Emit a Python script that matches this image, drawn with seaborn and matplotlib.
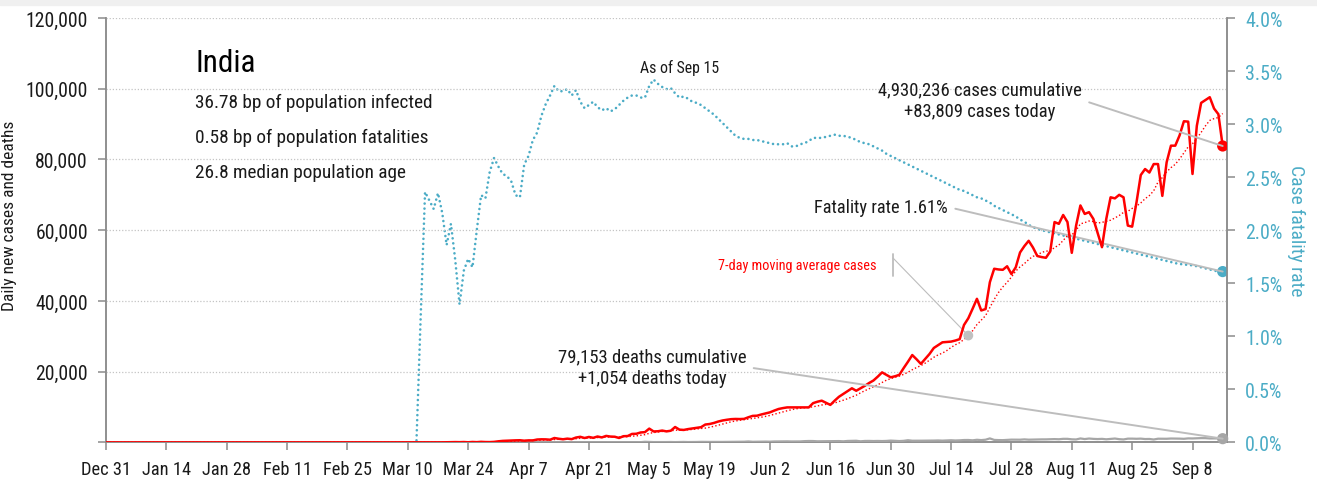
import numpy as np
import pandas as pd
import matplotlib
matplotlib.use("Agg")
import matplotlib.pyplot as plt
import matplotlib.ticker as mticker
import matplotlib.font_manager as fm
from matplotlib.lines import Line2D
from matplotlib.patches import Rectangle
import seaborn as sns

# ---------------- data ----------------
START_DATE = "2019-12-31"
END_DATE = "2020-09-15"

# daily new cases, one value per day from Dec 31 to Sep 15
cases = [
    0, 0, 0, 0, 0, 0, 0, 0, 0, 0,
    0, 0, 0, 0, 0, 0, 0, 0, 0, 0,
    0, 0, 0, 0, 0, 0, 0, 0, 0, 0,
    1, 0, 0, 1, 1, 0, 0, 0, 0, 0,
    0, 0, 0, 0, 0, 0, 0, 0, 0, 0,
    0, 0, 0, 0, 0, 0, 0, 0, 0, 0,
    0,
    0, 2, 1, 22, 2, 1, 3, 5, 4, 13,
    6, 11, 10, 20, 11, 6, 23, 14, 38, 50,
    86, 66, 103, 37, 121, 70, 160, 100, 87, 146, 306,
    424, 486, 560, 579, 609, 484, 573, 565, 813, 871,
    854, 758, 1243, 1031, 886, 1061, 922, 1371, 1580, 1239,
    1537, 1292, 1667, 1408, 1835, 1650, 1600, 1250, 1750, 1800,
    2394, 2442, 2806, 2900, 3900, 3100, 3150, 3344, 3113, 3300,
    4353, 3607, 3524, 3763, 3942, 4100, 4300, 5050, 5200, 5500,
    5900, 6198, 6400, 6568, 6629, 6600, 6650, 7111, 7500,
    7550, 7900, 8200, 8500, 9000, 9450, 9700, 9900, 9900, 9900,
    9900, 9900, 9900, 11100, 11500, 11800, 11200, 10600, 11800, 12900,
    13700, 14500, 15300, 14600, 15300, 16000, 16800, 17500, 18600, 19800,
    19100, 18400, 18700, 19100, 21000, 22800, 24700, 23500, 22200, 23600,
    25000, 26700, 27500, 28300, 28400, 28500, 28800, 29200, 33200, 35100,
    37800, 40600, 37300, 37700, 45300, 49100, 48900, 48800, 49800, 47600,
    49500, 53700, 55500, 57000, 55100, 52700, 52400, 52200, 54000, 62300,
    61800, 64300, 62300, 53600, 61300, 67000, 64600, 65100, 63200, 59200,
    55200, 63200, 69300, 69000, 70000, 69300, 61300, 61000, 67800, 75600,
    77300, 76300, 78700, 78700, 69700, 79200, 83900, 83900, 86800, 90800,
    90700, 75900, 89500, 96000, 96800, 97600, 94400, 92800, 83809,
]

# daily new deaths
deaths = [
    0, 0, 0, 0, 0, 0, 0, 0, 0, 0,
    0, 0, 0, 0, 0, 0, 0, 0, 0, 0,
    0, 0, 0, 0, 0, 0, 0, 0, 0, 0,
    0, 0, 0, 0, 0, 0, 0, 0, 0, 0,
    0, 0, 0, 0, 0, 0, 0, 0, 0, 0,
    0, 0, 0, 0, 0, 0, 0, 0, 0, 0,
    0, 0, 0, 0, 0, 0, 0, 0, 0, 0,
    0, 0,
    1, 0, 0, 0, 1, 0, 1, 0, 1, 1, 3, 2, 1, 3, 1, 3, 4, 4, 6, 6,
    5, 3, 20, 13, 25, 32, 35, 24, 33, 35, 40, 35, 36, 29, 38, 27, 36, 38, 38, 36,
    38, 50, 36, 53, 49, 48, 60, 60, 73, 67,
    77, 85, 68, 175, 126, 94, 89, 103, 97, 111, 87, 121, 134, 100, 104, 120,
    157, 134, 140, 132, 148, 137, 147, 154, 146, 170, 194, 265, 175, 193, 230,
    230, 204, 260, 273, 287, 294, 261, 266, 274, 357, 396, 386, 311, 325, 343,
    341, 336, 375, 306, 410, 445, 465, 312, 407, 418, 384, 410, 380, 417, 507,
    434, 379, 442, 613, 475, 467, 482, 487, 475, 519, 551, 500, 553, 606, 543,
    587, 671, 681, 587, 740, 648, 757, 1130, 705, 654, 636, 708, 779, 775, 764, 853,
    771, 803, 806, 852, 857, 904, 933, 886, 1007, 1007, 871, 834, 1115, 942, 1092,
    996, 944, 1002, 876, 977, 1092, 912, 836, 1059, 1063, 1021, 1065, 948, 971, 819, 1043,
    1045, 1026, 1096, 1089, 1065, 1016, 1133, 1115, 1172, 1209, 1201, 1114, 1136, 1132, 1054,
]

# case fatality rate in percent
cfr_pct = [
    0, 0, 0, 0, 0, 0, 0, 0, 0, 0,
    0, 0, 0, 0, 0, 0, 0, 0, 0, 0,
    0, 0, 0, 0, 0, 0, 0, 0, 0, 0,
    0, 0, 0, 0, 0, 0, 0, 0, 0, 0,
    0, 0, 0, 0, 0, 0, 0, 0, 0, 0,
    0, 0, 0, 0, 0, 0, 0, 0, 0, 0,
    0, 0, 0, 0, 0, 0, 0, 0, 0, 0,
    0, 0, 0,
    1.20, 2.36, 2.28, 2.20, 2.35, 2.16, 1.86, 2.06, 1.72, 1.30,
    1.62, 1.73, 1.65, 2.00, 2.33, 2.30, 2.55, 2.68, 2.60, 2.53,
    2.51, 2.46, 2.33, 2.31, 2.62, 2.70, 2.85, 2.92, 3.08, 3.19,
    3.27, 3.36, 3.31, 3.31, 3.33, 3.27, 3.32, 3.21, 3.15, 3.18,
    3.21, 3.16, 3.13, 3.15, 3.12, 3.14, 3.18, 3.22, 3.25, 3.27,
    3.27, 3.25, 3.25, 3.36, 3.42, 3.38, 3.35, 3.33, 3.34, 3.29,
    3.25, 3.26, 3.24, 3.21, 3.20, 3.18, 3.15, 3.12, 3.09, 3.05,
    3.01, 2.97, 2.93, 2.89, 2.87, 2.86, 2.86, 2.85, 2.85, 2.84,
    2.83, 2.82, 2.81, 2.81, 2.81, 2.82, 2.79, 2.79, 2.81, 2.82,
    2.84, 2.87, 2.87, 2.87, 2.88, 2.89, 2.90, 2.89, 2.89, 2.88,
    2.87, 2.85, 2.83, 2.82, 2.81, 2.79, 2.77, 2.75, 2.72, 2.70,
    2.68, 2.66, 2.64, 2.62, 2.60, 2.58, 2.56, 2.54, 2.52, 2.50,
    2.48, 2.46, 2.44, 2.42, 2.40, 2.38, 2.37, 2.35, 2.33, 2.31,
    2.30, 2.28, 2.26, 2.23, 2.21, 2.19, 2.17, 2.15, 2.13, 2.10,
    2.08, 2.05, 2.03, 2.01, 2.00, 1.99, 1.98, 1.97, 1.96, 1.95,
    1.94, 1.93, 1.92, 1.91, 1.90, 1.89, 1.88, 1.87, 1.86, 1.85,
    1.84, 1.83, 1.82, 1.81, 1.80, 1.79, 1.78, 1.77, 1.76, 1.75,
    1.74, 1.73, 1.72, 1.71, 1.70, 1.69, 1.68, 1.68, 1.67, 1.67,
    1.66, 1.65, 1.64, 1.63, 1.62, 1.61, 1.61,
]

left_ticks = [0, 20000, 40000, 60000, 80000, 100000, 120000]
right_ticks = [0.0, 0.5, 1.0, 1.5, 2.0, 2.5, 3.0, 3.5, 4.0]
x_tick_step_days = 14
ma_label_date = "2020-07-18"

title = "India"
info_lines = ["36.78 bp of population infected",
              "0.58 bp of population fatalities",
              "26.8 median population age"]
cases_note = "4,930,236 cases cumulative\n+83,809 cases today"
deaths_note = "79,153 deaths cumulative\n+1,054 deaths today"
cfr_note = "Fatality rate 1.61%"
ma_note = "7-day moving average cases"
asof_note = "As of Sep 15"

# ---------------- fonts: prefer a condensed face ----------------
def font_ok(name):
    try:
        fm.findfont(fm.FontProperties(family=name), fallback_to_default=False)
        return True
    except Exception:
        return False

FONT, SCALE = "Roboto", 1.0
for name, sc in (("Liberation Sans Narrow", 1.2), ("Roboto Condensed", 1.12),
                 ("Roboto", 1.0)):
    if font_ok(name):
        FONT, SCALE = name, sc
        break

def fs(v):
    return v * SCALE

# ---------------- frame ----------------
dates = pd.date_range(START_DATE, END_DATE, freq="D")
df = pd.DataFrame({"date": dates, "cases": cases, "deaths": deaths, "cfr": cfr_pct})
df["ma7"] = df["cases"].rolling(7, min_periods=1).mean()

RED = "#ff0000"
TEAL = "#4bacc6"
GRAY = "#a6a6a6"
LINEGRAY = "#bdbdbd"
SPINE = "#8c8c8c"
TXT = "#1a1a1a"

sns.set_theme(style="white")
plt.rcParams["font.family"] = [FONT, "DejaVu Sans"]

W, H = 1317, 485
fig = plt.figure(figsize=(W / 100, H / 100), dpi=100)
fig.patch.set_facecolor("white")
fig.patches.append(Rectangle((0, 1 - 6 / H), 1, 6 / H, transform=fig.transFigure,
                             color="#f0f0f0", zorder=0))

def fx(px):
    return px / W

def fy(py):
    return 1 - py / H

AX_L, AX_R, AX_T, AX_B = 106, 1227, 19, 443.4
ax = fig.add_axes([fx(AX_L), fy(AX_B), fx(AX_R) - fx(AX_L), fy(AX_T) - fy(AX_B)])
ax2 = ax.twinx()

# series
sns.lineplot(data=df, x="date", y="cfr", ax=ax2, color=TEAL, linewidth=1.9,
             linestyle=(0, (0.01, 1.9)), dash_capstyle="round", zorder=2)
sns.lineplot(data=df, x="date", y="deaths", ax=ax, color=GRAY, linewidth=1.6, zorder=3)
sns.lineplot(data=df, x="date", y="ma7", ax=ax, color=RED, linewidth=1.0,
             linestyle=(0, (1, 1.6)), zorder=4)
sns.lineplot(data=df, x="date", y="cases", ax=ax, color=RED, linewidth=1.8, zorder=5)

last = df.iloc[[-1]]
sns.scatterplot(data=last, x="date", y="cases", ax=ax, color=RED, s=65,
                edgecolor="none", zorder=6)
sns.scatterplot(data=last, x="date", y="deaths", ax=ax, color=GRAY, s=65,
                edgecolor="none", zorder=6, clip_on=False)
sns.scatterplot(data=last, x="date", y="cfr", ax=ax2, color=TEAL, s=65,
                edgecolor="none", zorder=6)
ma_row = df[df["date"] == pd.Timestamp(ma_label_date)]
sns.scatterplot(data=ma_row, x="date", y="ma7", ax=ax, color="#c0c0c0", s=50,
                edgecolor="none", zorder=6)

ax.set_zorder(ax2.get_zorder() + 1)
ax.patch.set_visible(False)

# axes limits & ticks
ax.set_xlim(pd.Timestamp(START_DATE), pd.Timestamp(END_DATE) + pd.Timedelta(days=1))
ax.set_ylim(left_ticks[0], left_ticks[-1])
ax2.set_ylim(right_ticks[0], right_ticks[-1])

xt = pd.date_range(START_DATE, END_DATE, freq=f"{x_tick_step_days}D")
ax.set_xticks(xt)
ax.set_xticklabels([f"{d:%b} {d.day}" for d in xt])
ax.set_yticks(left_ticks)
ax.yaxis.set_major_formatter(mticker.FuncFormatter(
    lambda v, p: "" if v == 0 else f"{int(v):,}"))
ax2.set_yticks(right_ticks)
ax2.yaxis.set_major_formatter(mticker.FuncFormatter(lambda v, p: f"{v:.1f}%"))

ax.tick_params(axis="x", direction="out", length=6, width=1.1, color=SPINE,
               labelsize=fs(11.8), labelcolor=TXT, pad=7, bottom=True)
ax.tick_params(axis="y", direction="out", length=6, width=1.1, color=SPINE,
               labelsize=fs(12.7), labelcolor=TXT, pad=7, left=True)
ax2.tick_params(axis="y", direction="out", length=6, width=1.1, color=SPINE,
                labelsize=fs(12.8), labelcolor=TEAL, pad=7, right=True)

ax.grid(False)
ax2.grid(False)
ax.yaxis.grid(True, linestyle=(0, (1, 1.5)), color="#c4c4c4", linewidth=0.9)
ax.set_axisbelow(True)

for a in (ax, ax2):
    a.spines["top"].set_visible(False)
    for s in ("left", "right", "bottom"):
        a.spines[s].set_color(SPINE)
        a.spines[s].set_linewidth(1.1)

ax.set_xlabel("")
ax.set_ylabel("Daily new cases and deaths", fontsize=fs(11.2), color=TXT)
ax.yaxis.set_label_coords((17 - AX_L) / (AX_R - AX_L), (AX_B - 216) / (AX_B - AX_T))
ax2.set_ylabel("Case fatality rate", fontsize=fs(12.5), color=TEAL, rotation=270,
               labelpad=16)

# text block
fig.text(fx(195), fy(63), title, fontsize=fs(20), color="black", va="center", ha="left")
for i, line in enumerate(info_lines):
    fig.text(fx(195), fy(103 + 35 * i), line, fontsize=fs(12.4), color=TXT,
             va="center", ha="left")
fig.text(fx(680), fy(68), asof_note, fontsize=fs(10.2), color=TXT, va="center",
         ha="center")

conn = dict(arrowstyle="-", color=LINEGRAY, lw=1.4, shrinkA=3, shrinkB=0,
            relpos=(1, 0.5))
ax.annotate(cases_note, xy=(last["date"].iloc[0], last["cases"].iloc[0]),
            xycoords="data", xytext=(fx(980), fy(101)), textcoords="figure fraction",
            ha="center", va="center", fontsize=fs(12), color=TXT,
            linespacing=1.3, arrowprops=conn, zorder=7)
ax.annotate(deaths_note, xy=(last["date"].iloc[0], last["deaths"].iloc[0]),
            xycoords="data", xytext=(fx(652), fy(368)), textcoords="figure fraction",
            ha="center", va="center", fontsize=fs(12), color=TXT,
            linespacing=1.3, arrowprops=conn, zorder=7)
ax2.annotate(cfr_note, xy=(last["date"].iloc[0], last["cfr"].iloc[0]),
             xycoords="data", xytext=(fx(948), fy(208)), textcoords="figure fraction",
             ha="right", va="center", fontsize=fs(11.8), color=TXT,
             arrowprops=conn, zorder=7)

fig.text(fx(797), fy(266), ma_note, fontsize=fs(9.2), color=RED, va="center",
         ha="center")
fig.add_artist(Line2D([fx(893), fx(893)], [fy(255), fy(277)], transform=fig.transFigure,
                      color=LINEGRAY, lw=1.3))
ax.annotate("", xy=(ma_row["date"].iloc[0], ma_row["ma7"].iloc[0]), xycoords="data",
            xytext=(fx(893), fy(259)), textcoords="figure fraction",
            arrowprops=dict(arrowstyle="-", color=LINEGRAY, lw=0.8,
                            shrinkA=0, shrinkB=0))

fig.savefig("out.png", dpi=100)
